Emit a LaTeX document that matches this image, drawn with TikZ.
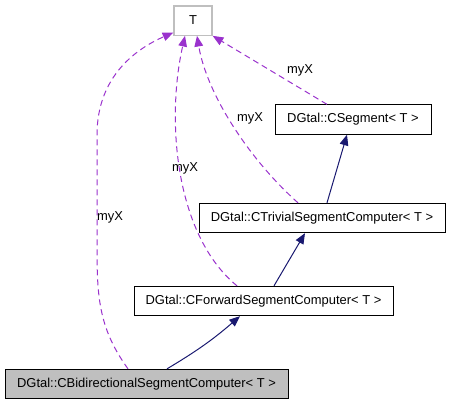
\documentclass[tikz,border=0pt]{standalone}
\usepackage{fontspec}
\setmainfont{Liberation Sans}
\usetikzlibrary{arrows.meta,calc}
\definecolor{inhblue}{HTML}{191970}
\definecolor{usepurple}{HTML}{9A32CD}
\tikzset{
  clsbox/.style={draw=black, line width=0.75pt, fill=white, inner sep=0pt,
                 minimum height=22pt, font=\fontsize{9.7}{11}\selectfont},
  tbox/.style={clsbox, draw=black!25, line width=1pt, minimum width=28.5pt},
  inharr/.style={-{Triangle[length=8pt,width=6.5pt]}, draw=inhblue, line width=0.75pt},
  usearr/.style={-{Triangle[length=8pt,width=6.5pt]}, draw=usepurple, fill=none,
                 line width=0.75pt, dash pattern=on 4.5pt off 3pt},
  uselab/.style={font=\fontsize{9.7}{11}\selectfont, inner sep=0pt},
}
\begin{document}
\begin{tikzpicture}[x=0.75pt,y=-0.75pt]
\useasboundingbox (0,0) rectangle (451,405);
\node[tbox] (t) at (193,20.5) {T};
\node[clsbox, minimum width=117pt] (segment) at (353,119.5) {DGtal::CSegment< T >};
\node[clsbox, minimum width=184.5pt] (trivial) at (322,218) {DGtal::CTrivialSegmentComputer< T >};
\node[clsbox, minimum width=194.25pt] (forward) at (263.5,301) {DGtal::CForwardSegmentComputer< T >};
\node[clsbox, minimum width=212.25pt, fill=black!25] (bidir) at (146.5,384) {DGtal::CBidirectionalSegmentComputer< T >};
% inheritance
\draw[inharr] ($(trivial.north)+(5,0)$) -- ($(segment.south)+(-6,0)$);
\draw[inharr] ($(forward.north)+(10.5,0)$) -- ($(trivial.south)+(-17,0)$);
\draw[inharr] ($(bidir.north)+(20.5,0)$) to[bend right=5] ($(forward.south)+(-23.5,0)$);
% usage
\draw[usearr] ($(segment.north)+(-26,0)$) -- (t.south east);
\draw[usearr] ($(trivial.north)+(-24,0)$) .. controls (250,160) and (207,95) .. ($(t.south)+(4,0)$);
\draw[usearr] ($(forward.north)+(-26.5,0)$) .. controls (175,235) and (166,120) .. ($(t.south)+(-8,0)$);
\draw[usearr] ($(bidir.north)+(-18.5,0)$) .. controls (100,330) and (97,300) .. (97,250)
  -- (97,135) .. controls (97,75) and (138,48) .. ($(t.west)+(0,12)$);
\node[uselab] (lab1) at (300,70) {myX};
\node[uselab] (lab2) at (250,118) {myX};
\node[uselab] (lab3) at (185,168) {myX};
\node[uselab] (lab4) at (110,217) {myX};
\end{tikzpicture}
\end{document}
